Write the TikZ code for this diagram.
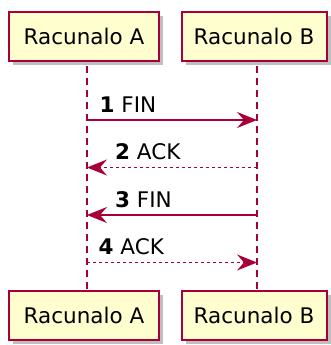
\documentclass[tikz,border=0pt]{standalone}
\usepackage{fontspec}
\setmainfont{DejaVu Sans}
\usetikzlibrary{arrows.meta,shadows}
\definecolor{umlred}{HTML}{A80036}
\definecolor{umlfill}{HTML}{FEFECE}
\tikzset{
  actor/.style={draw=umlred, line width=2pt, fill=umlfill, minimum height=49pt,
    inner sep=0pt, font=\fontsize{21.5}{24}\selectfont,
    drop shadow={shadow xshift=4pt, shadow yshift=-4pt, fill=black, opacity=0.25}},
  life/.style={umlred, line width=1.5pt, dash pattern=on 7pt off 5pt},
  msg/.style={umlred, line width=1.5pt, -{Stealth[length=20pt,width=16pt,inset=7pt]}},
  reply/.style={msg, dash pattern=on 3pt off 3pt},
  lbl/.style={anchor=base west, inner sep=0pt, font=\fontsize{21.5}{24}\selectfont}
}
\begin{document}
\begin{tikzpicture}[x=1pt,y=-1pt]
    \useasboundingbox (0,0) rectangle (331,345);
    % lifelines
    \coordinate (la0) at (87,66);
    \coordinate (la5) at (87,291);
    \coordinate (lb0) at (257,66);
    \coordinate (lb5) at (257,291);
    \draw[life] (la0) -- (la5);
    \draw[life] (lb0) -- (lb5);
    % participants
    \node[actor, minimum width=150pt] (topA) at (84,36.5) {Racunalo A};
    \node[actor, minimum width=145pt] (topB) at (254,36.5) {Racunalo B};
    \node[actor, minimum width=150pt] (botA) at (84,315.5) {Racunalo A};
    \node[actor, minimum width=145pt] (botB) at (254,315.5) {Racunalo B};
    % messages
    \coordinate (la1) at (87,120);
    \coordinate (lb1) at (257,120);
    \coordinate (la2) at (87,167.5);
    \coordinate (lb2) at (257,167.5);
    \coordinate (la3) at (87,215);
    \coordinate (lb3) at (257,215);
    \coordinate (la4) at (87,262.5);
    \coordinate (lb4) at (257,262.5);
    \draw[msg] (la1) -- (lb1);
    \node[lbl] (fin1) at (99.5,112) {\textbf{1} FIN};
    \draw[reply] (lb2) -- (la2);
    \node[lbl] (ack2) at (115,159.5) {\textbf{2} ACK};
    \draw[msg] (lb3) -- (la3);
    \node[lbl] (fin3) at (115,207) {\textbf{3} FIN};
    \draw[reply] (la4) -- (lb4);
    \node[lbl] (ack4) at (98.5,254.5) {\textbf{4} ACK};
\end{tikzpicture}
\end{document}
